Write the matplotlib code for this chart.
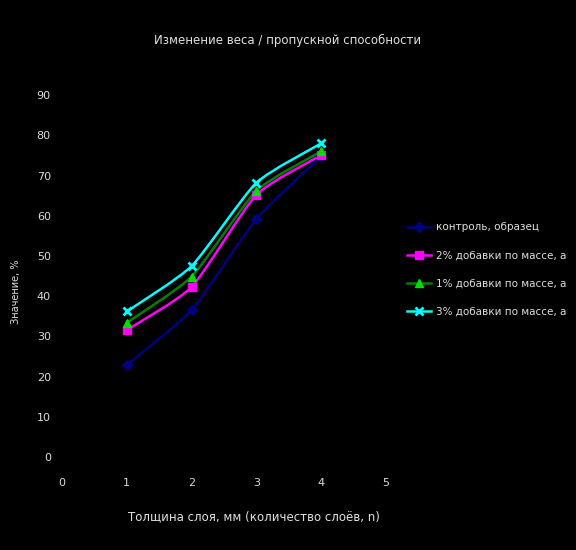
import matplotlib
matplotlib.use("Agg")
import matplotlib.pyplot as plt
from matplotlib.path import Path
from matplotlib.patches import PathPatch
from matplotlib.lines import Line2D
import numpy as np

title = "Изменение веса / пропускной способности"
x_label = "Толщина слоя, мм (количество слоёв, n)"
y_label = "Значение, %"
x_vals = [1, 2, 3, 4]
series_names = ["контроль, образец", "2% добавки по массе, а", "1% добавки по массе, а", "3% добавки по массе, а"]
s1 = [22.9, 36.6, 59.2, 74.8]
s2 = [31.6, 42.3, 65.2, 75.1]
s3 = [33.4, 44.9, 66.2, 76.0]
s4 = [36.2, 47.5, 68.2, 78.0]
x_ticks = [0, 1, 2, 3, 4, 5]
y_ticks = [0, 10, 20, 30, 40, 50, 60, 70, 80, 90]

colors = ["#000080", "#ff00ff", "#008000", "#00ffff"]
marker_colors = ["#000080", "#ff00ff", "#00e000", "#00ffff"]
markers = ["D", "s", "^", "x"]

fig = plt.figure(figsize=(5.76, 5.5), dpi=100, facecolor="black")
ax = fig.add_axes([0.1076, 0.169, 0.5625, 0.658], facecolor="black")
for sp in ax.spines.values():
    sp.set_visible(False)


def smooth_path(xs, ys, t=0.1):
    xs = np.asarray(xs, float); ys = np.asarray(ys, float)
    n = len(xs)
    verts = [(xs[0], ys[0])]
    codes = [Path.MOVETO]
    for i in range(n - 1):
        p0 = (xs[max(i - 1, 0)], ys[max(i - 1, 0)])
        p1 = (xs[i], ys[i])
        p2 = (xs[i + 1], ys[i + 1])
        p3 = (xs[min(i + 2, n - 1)], ys[min(i + 2, n - 1)])
        c1 = (p1[0] + (p2[0] - p0[0]) * t, p1[1] + (p2[1] - p0[1]) * t)
        c2 = (p2[0] - (p3[0] - p1[0]) * t, p2[1] - (p3[1] - p1[1]) * t)
        verts += [c1, c2, p2]
        codes += [Path.CURVE4] * 3
    return Path(verts, codes)


handles = []
for ys, c, mc, m, name in zip([s1, s2, s3, s4], colors, marker_colors, markers, series_names):
    ax.add_patch(PathPatch(smooth_path(x_vals, ys), facecolor="none", edgecolor=c, lw=1.8, zorder=2))
    ms = 6 if m != "D" else 5.5
    ax.plot(x_vals, ys, ls="none", marker=m, color=mc, ms=ms, mew=2 if m == "x" else 1, zorder=3)
    handles.append(Line2D([], [], color=c, lw=1.8, marker=m, markerfacecolor=mc, markeredgecolor=mc,
                          ms=ms, mew=2 if m == "x" else 1))

ax.set_xlim(0, 5)
ax.set_ylim(0, 90)
ax.set_xticks(x_ticks)
ax.set_yticks(y_ticks)
ax.tick_params(colors="#dddddd", length=0, labelsize=8)
ax.tick_params(axis="x", pad=15)
ax.tick_params(axis="y", pad=8)

fig.text(0.5, 0.927, title, color="#e0e0e0", fontsize=8.5, ha="center", va="center")
fig.text(0.44, 0.06, x_label, color="#e0e0e0", fontsize=8.5, ha="center", va="center")
fig.text(0.028, 0.47, y_label, color="#e0e0e0", fontsize=7, ha="center", va="center", rotation=90)

fig.legend(handles, series_names, loc="center left", bbox_to_anchor=(0.69, 0.51),
           frameon=False, labelcolor="#e0e0e0", fontsize=7.5, handlelength=2.3,
           labelspacing=1.75, handletextpad=0.5)

fig.savefig("out.png", dpi=100, facecolor="black")
